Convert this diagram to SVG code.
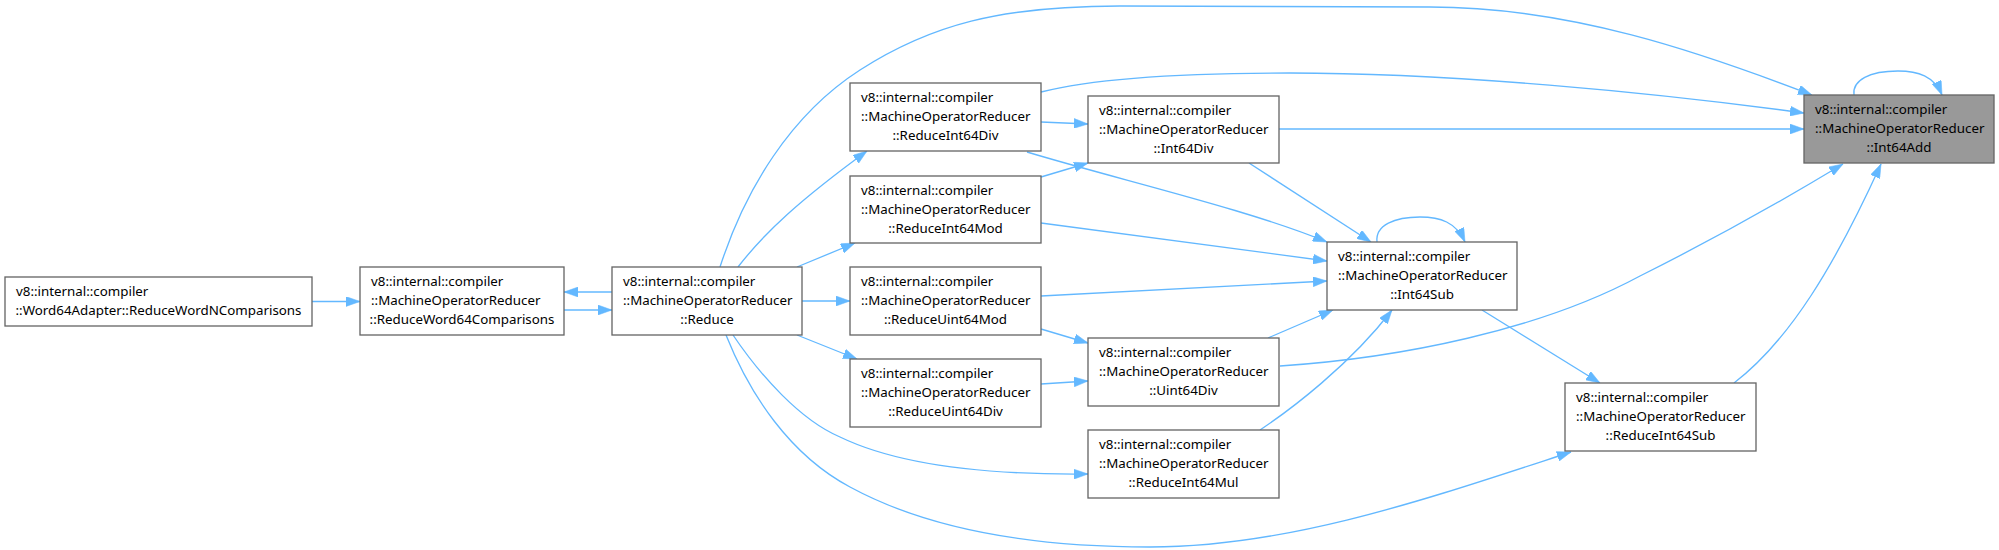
<svg xmlns="http://www.w3.org/2000/svg" width="1999" height="550" viewBox="0 0 1999 550">
<style>
.node rect{fill:#ffffff;stroke:#666666;stroke-width:1.33}
#n_int64add rect{fill:#999999}
.node text{font-family:"Noto Sans","Liberation Sans",sans-serif;font-size:13.33px;fill:#000000}
.node text.c{text-anchor:middle}
.edges path{fill:none;stroke:#63b8ff;stroke-width:1.33;marker-end:url(#arr)}
</style>
<defs>
<marker id="arr" markerUnits="userSpaceOnUse" markerWidth="14" markerHeight="10" viewBox="0 0 13.3 9.4" refX="13.3" refY="4.7" orient="auto">
<path d="M0,0 L13.3,4.7 L0,9.4 z" fill="#63b8ff" stroke="#63b8ff" stroke-width="0.5"/>
</marker>
</defs>
<rect width="1999" height="550" fill="#ffffff"/>
<g class="edges" id="edges">
<path d="M312,301.5 L360,301.5"/>
<path d="M564,310 L612,310"/>
<path d="M612,292 L564,292"/>
<path d="M738,267 C765,232 800,200 867,151"/>
<path d="M797,267 L855,243"/>
<path d="M802,301 L850,301"/>
<path d="M797,335 L857,359"/>
<path d="M733,335 C760,375 800,420 840,437 C900,466 990,475 1088,474"/>
<path d="M726,335 C750,395 790,455 850,487 C920,525 1020,547 1150,547 C1290,547 1430,498 1571,452"/>
<path d="M720,267 C745,190 790,115 860,70 C930,25 1000,6 1120,6 L1430,7 C1570,7 1700,52 1812,95"/>
<path d="M1041,92 C1080,82 1150,73 1290,73 C1450,73 1650,92 1804,113"/>
<path d="M1279,129 L1804,129"/>
<path d="M1280,366 C1400,358 1540,330 1640,276 C1720,236 1790,196 1843,164"/>
<path d="M1734,383 C1790,340 1835,265 1881,164"/>
<path d="M1854,95 C1852,80 1870,71 1898,71 C1918,71 1934,76 1942,95"/>
<path d="M1377,242 C1375,225 1395,217 1420,217 C1440,217 1456,222 1465,242"/>
<path d="M1249,163 L1371,242"/>
<path d="M1027,152 C1120,180 1250,210 1327,242"/>
<path d="M1041,223 L1327,261"/>
<path d="M1041,296 L1327,281"/>
<path d="M1268,338 L1333,310"/>
<path d="M1260,430 C1290,410 1350,365 1392,310"/>
<path d="M1482,310 L1600,383"/>
<path d="M1041,122 L1088,124"/>
<path d="M1041,177 L1088,163"/>
<path d="M1041,329 L1088,343"/>
<path d="M1041,384 L1088,381"/>
</g>
<g class="node" id="n_word64adapter">
<rect x="5" y="277" width="307" height="49"/>
<text x="16" y="296.3">v8::internal::compiler</text>
<text class="c" x="158.5" y="315">::Word64Adapter::ReduceWordNComparisons</text>
</g>
<g class="node" id="n_reduceword64comparisons">
<rect x="360" y="267" width="204" height="68"/>
<text x="371" y="286.3">v8::internal::compiler</text>
<text x="371" y="305">::MachineOperatorReducer</text>
<text class="c" x="462" y="323.7">::ReduceWord64Comparisons</text>
</g>
<g class="node" id="n_reduce">
<rect x="612" y="267" width="190" height="68"/>
<text x="623" y="286.3">v8::internal::compiler</text>
<text x="623" y="305">::MachineOperatorReducer</text>
<text class="c" x="707" y="323.7">::Reduce</text>
</g>
<g class="node" id="n_reduceint64div">
<rect x="850" y="83" width="191" height="68"/>
<text x="861" y="102.3">v8::internal::compiler</text>
<text x="861" y="121">::MachineOperatorReducer</text>
<text class="c" x="945.5" y="139.7">::ReduceInt64Div</text>
</g>
<g class="node" id="n_reduceint64mod">
<rect x="850" y="176" width="191" height="67"/>
<text x="861" y="195.3">v8::internal::compiler</text>
<text x="861" y="214">::MachineOperatorReducer</text>
<text class="c" x="945.5" y="232.7">::ReduceInt64Mod</text>
</g>
<g class="node" id="n_reduceuint64mod">
<rect x="850" y="267" width="191" height="68"/>
<text x="861" y="286.3">v8::internal::compiler</text>
<text x="861" y="305">::MachineOperatorReducer</text>
<text class="c" x="945.5" y="323.7">::ReduceUint64Mod</text>
</g>
<g class="node" id="n_reduceuint64div">
<rect x="850" y="359" width="191" height="68"/>
<text x="861" y="378.3">v8::internal::compiler</text>
<text x="861" y="397">::MachineOperatorReducer</text>
<text class="c" x="945.5" y="415.7">::ReduceUint64Div</text>
</g>
<g class="node" id="n_int64div">
<rect x="1088" y="96" width="191" height="67"/>
<text x="1099" y="115.3">v8::internal::compiler</text>
<text x="1099" y="134">::MachineOperatorReducer</text>
<text class="c" x="1183.5" y="152.7">::Int64Div</text>
</g>
<g class="node" id="n_uint64div">
<rect x="1088" y="338" width="191" height="68"/>
<text x="1099" y="357.3">v8::internal::compiler</text>
<text x="1099" y="376">::MachineOperatorReducer</text>
<text class="c" x="1183.5" y="394.7">::Uint64Div</text>
</g>
<g class="node" id="n_reduceint64mul">
<rect x="1088" y="430" width="191" height="68"/>
<text x="1099" y="449.3">v8::internal::compiler</text>
<text x="1099" y="468">::MachineOperatorReducer</text>
<text class="c" x="1183.5" y="486.7">::ReduceInt64Mul</text>
</g>
<g class="node" id="n_int64sub">
<rect x="1327" y="242" width="190" height="68"/>
<text x="1338" y="261.3">v8::internal::compiler</text>
<text x="1338" y="280">::MachineOperatorReducer</text>
<text class="c" x="1422" y="298.7">::Int64Sub</text>
</g>
<g class="node" id="n_reduceint64sub">
<rect x="1565" y="383" width="191" height="68"/>
<text x="1576" y="402.3">v8::internal::compiler</text>
<text x="1576" y="421">::MachineOperatorReducer</text>
<text class="c" x="1660.5" y="439.7">::ReduceInt64Sub</text>
</g>
<g class="node" id="n_int64add">
<rect x="1804" y="95" width="190" height="68"/>
<text x="1815" y="114.3">v8::internal::compiler</text>
<text x="1815" y="133">::MachineOperatorReducer</text>
<text class="c" x="1899" y="151.7">::Int64Add</text>
</g>
</svg>
